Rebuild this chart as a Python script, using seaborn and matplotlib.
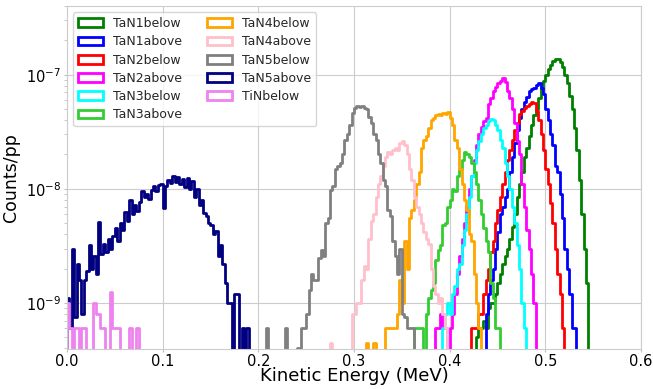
import numpy as np
import pandas as pd
import matplotlib
matplotlib.use("Agg")
import matplotlib.pyplot as plt
from matplotlib.patches import Patch
import seaborn as sns

# ---------------- data (values in units of 1e-9 counts/pp) ----------------
BIN_WIDTH = 0.0025          # MeV
UNIT = 1e-9

names = ["TaN1below", "TaN1above", "TaN2below", "TaN2above", "TaN3below", "TaN3above",
         "TaN4below", "TaN4above", "TaN5below", "TaN5above", "TiNbelow"]
colors = ["green", "blue", "red", "magenta", "cyan", "limegreen",
          "orange", "pink", "gray", "navy", "violet"]

# energy of the first bin of each series (MeV)
start_energy = {
    "TaN1below": 0.4275, "TaN1above": 0.4375, "TaN2below": 0.4225, "TaN2above": 0.385,
    "TaN3below": 0.3925, "TaN3above": 0.3625, "TaN4below": 0.3125, "TaN4above": 0.275,
    "TaN5below": 0.2075, "TaN5above": 0.0, "TiNbelow": 0.0,
}

TaN1below = [0.5, 0.6, 0.6, 0.7, 0.6, 0.9, 1.0, 1.0, 1.2, 1.5,
             1.8, 2.2, 2.6, 3.0, 3.6, 4.6, 6.0, 8.5, 11, 14,
             19, 23, 29, 36, 44, 50, 62, 76, 88, 100,
             112, 122, 132, 138, 136, 130, 118, 100, 85, 65,
             50, 34, 22, 12, 6, 3.0, 1.5]
TaN1above = [0.8, 1.2, 1.6, 2.0, 3.0, 4.2, 6.0, 7.0, 8.5, 10,
             14, 19, 25, 33, 42, 50, 58, 64, 72, 75,
             77, 82, 84, 76, 68, 50, 40, 30, 24, 16,
             14, 9, 5.5, 3.0, 2.0, 1.2, 0.6, 0.6]
TaN2below = [0.6, 0.6, 0.6, 0.8, 0.8, 1.2, 1.6, 2.0, 2.8, 3.5,
             5.0, 6.5, 8.5, 11, 14, 18, 22, 27, 33, 38,
             45, 48, 51, 53, 55, 58, 56, 48, 40, 30,
             22, 15, 11, 7.5, 5, 3.0, 1.8, 1.2, 0.6]
TaN2above = [0.6, 0.6, 0.8, 0.6, 0.6, 0, 0.6, 0.8, 1.2, 1.8,
             2.6, 3.6, 5.0, 7.0, 10, 13, 18, 24, 30, 35,
             39, 42, 55, 63, 72, 78, 84, 88, 93, 86,
             72, 62, 50, 38, 26, 20, 11, 7, 4.4, 3.0,
             1.8, 1.0]
TaN3below = [0.6, 0.8, 1.0, 0.8, 1.2, 1.4, 2.0, 2.2, 3.2, 4.4,
             6.0, 8.5, 13, 17, 22, 26, 30, 34, 36, 39,
             41, 40, 36, 33, 27, 23, 17, 13, 10, 7,
             5, 3.2, 2.0, 1.0, 0.6]
TaN3above = [0.6, 0.6, 0.6, 0.6, 0, 0.8, 1.1, 1.3, 1.5, 2.4,
             2.9, 3.2, 4.8, 5.0, 7.0, 8.0, 10, 9.5, 13, 15,
             18, 21, 20, 19, 17, 14, 11, 8, 6, 4.5,
             3.5, 2.8, 1.5, 1.1, 0.6, 0.6]
TaN4below = [0.45, 0, 0, 0.45, 0, 0, 0, 0,
             0.6, 0.6, 0.6, 0.6, 0.6, 0.8, 1.6, 1.0, 3.5, 2.0,
             5.6, 6.5, 8.0, 11, 14, 23, 27, 29, 34, 40,
             42, 44, 45, 44, 46, 45, 47, 42, 36, 27,
             23, 15, 11, 8, 6.5, 4.0, 3.5, 1.8, 1.0, 0.6]
TaN4above = [0.45, 0, 0, 0, 0, 0, 0, 0, 0,
             0.8, 0.8, 1.0, 1.0, 1.6, 2.1, 2.0, 3.6, 5.2, 6.0,
             8.5, 11, 13, 16, 19, 21, 20, 22, 23, 22,
             25, 26, 24, 20, 15, 12, 8.5, 7.0, 6.0, 5.0,
             4.2, 3.6, 3.3, 2.0, 1.4, 1.2, 1.0, 1.1, 0.8, 0.6]
TaN5below = [0.6, 0, 0, 0, 0, 0, 0, 0, 0.6, 0,
             0, 0, 0, 0.4, 0, 0.6, 0.6, 0.8, 1.3, 1.8,
             1.6, 1.6, 2.5, 2.9, 2.6, 5.0, 5.6, 9.8, 10.5, 15,
             16, 17, 20, 27, 30, 36, 46, 51, 53, 52,
             53, 51, 50, 43, 38, 30, 27, 20, 17, 12,
             10.5, 6.5, 5.8, 3.5, 2.6, 1.8, 3.0, 0.8, 0.75, 0.6,
             0.6, 0.6]
TaN5above = [1.1, 0.6, 3.0, 0.75, 2.2, 1.6, 0.8, 1.6, 1.9, 3.2,
             2.0, 2.6, 1.8, 5.1, 2.7, 3.3, 2.8, 3.6, 3.0, 3.9,
             4.5, 3.5, 5.0, 4.4, 6.3, 5.2, 8.0, 6.0, 7.2, 6.4,
             7.6, 9.5, 8.5, 9.0, 8.2, 9.8, 10.5, 9.6, 10.8, 11.0,
             6.8, 10.5, 12.0, 11.2, 13.0, 11.5, 12.6, 11.0, 12.2, 10.4,
             12.4, 10.0, 11.6, 8.5, 10.0, 7.2, 8.0, 6.2, 5.8, 5.0,
             4.8, 4.0, 4.3, 2.6, 3.2, 2.2, 1.5, 1.0, 1.0, 0,
             1.2, 1.2, 0, 0.6, 0, 0.6]
TiNbelow = [1.0, 0.6, 0, 0.6, 0.6, 0, 0.6, 0.6, 0, 0,
            0, 1.0, 0.8, 0.8, 0.6, 0.6, 0, 0, 1.25, 0.6,
            0.6, 0.6, 0, 0, 0, 0, 0.6, 0, 0, 0.6]

series = {
    "TaN1below": TaN1below, "TaN1above": TaN1above, "TaN2below": TaN2below,
    "TaN2above": TaN2above, "TaN3below": TaN3below, "TaN3above": TaN3above,
    "TaN4below": TaN4below, "TaN4above": TaN4above, "TaN5below": TaN5below,
    "TaN5above": TaN5above, "TiNbelow": TiNbelow,
}

x_ticks = [0.0, 0.1, 0.2, 0.3, 0.4, 0.5, 0.6]

# ---------------- style ----------------
sns.set_style("whitegrid", rc={
    "axes.edgecolor": "0.8",
    "grid.color": "0.8",
    "xtick.bottom": True, "ytick.left": True,
})
plt.rcParams["font.family"] = ["DejaVu Sans"]

fig = plt.figure(figsize=(6.53, 3.89), dpi=100)
ax = fig.add_axes([0.1026, 0.1028, 0.879, 0.8818])

for name, color in zip(names, colors):
    vals = np.concatenate([[0.0], np.asarray(series[name], float), [0.0]]) * UNIT
    i0 = int(round(start_energy[name] / BIN_WIDTH)) - 1
    edges = np.arange(i0, i0 + len(vals) + 1) * BIN_WIDTH
    centers = 0.5 * (edges[:-1] + edges[1:])
    df = pd.DataFrame({"energy": centers, "w": vals})
    sns.histplot(data=df, x="energy", weights="w", bins=edges.tolist(), element="step",
                 fill=False, color=color, linewidth=2, ax=ax)

ax.set_yscale("log", nonpositive="clip")
ax.set_xlim(0, 0.6)
ax.set_ylim(3.95e-10, 4.0e-7)
ax.set_xticks(x_ticks)
ax.tick_params(axis="both", which="major", labelsize=10.5, length=2.5, width=0.8,
               pad=2, color="0.75", labelcolor="black")
ax.tick_params(axis="x", which="major", pad=1)
ax.tick_params(axis="y", which="minor", length=2, width=0.6, left=True, color="0.75")
ax.grid(True, which="major", color="0.8", linewidth=0.8)
ax.grid(False, which="minor")
ax.set_xlabel("Kinetic Energy (MeV)", fontsize=13, labelpad=-1, color="black")
ax.set_ylabel("Counts/pp", fontsize=12.5, labelpad=4, color="black")

handles = [Patch(facecolor="none", edgecolor=c, linewidth=2, label=n)
           for n, c in zip(names, colors)]
ax.legend(handles=handles, ncol=2, loc="upper left", fontsize=9, frameon=True,
          labelspacing=0.42)

fig.savefig("out.png", dpi=100)
